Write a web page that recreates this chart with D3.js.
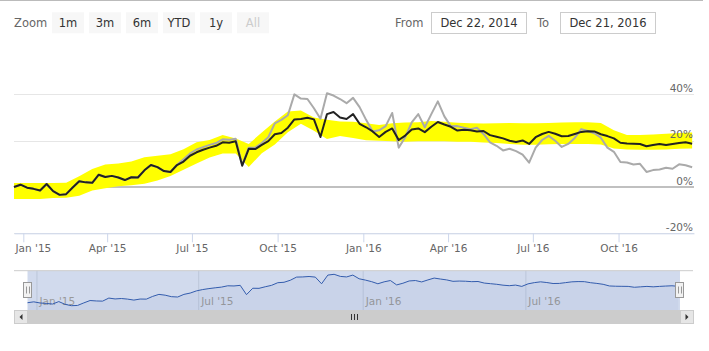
<!DOCTYPE html>
<html>
<head>
<meta charset="utf-8">
<script src="https://cdn.jsdelivr.net/npm/d3@7"></script>
<style>
body { margin: 0; background: #fff; }
text { font-family: "Lucida Grande", "Lucida Sans Unicode", "DejaVu Sans", Arial, sans-serif; }
</style>
</head>
<body>
<div id="chart"></div>
<script>
// Weekly points starting Monday Dec 22, 2014 (values in %)
const startDate = new Date(2014, 11, 22);
const endDate = new Date(2016, 11, 21);

const fundValues = [
  0, 1.0, -0.3, -0.8, -1.5, 1.3, -1.8, -3.4, -3.1, -0.2,
  2.5, 2.0, 1.8, 5.3, 4.3, 4.8, 4.1, 3.0, 4.2, 4.1,
  7.2, 9.5, 8.6, 6.9, 6.5, 9.5, 11.0, 13.5, 15.0, 16.1,
  17.0, 17.8, 19.3, 19.1, 19.8, 9.2, 16.5, 16.4, 18.2, 19.8,
  22.8, 23.3, 25.6, 29.2, 29.4, 29.9, 29.2, 21.6, 31.5, 32.4,
  30.0, 29.4, 31.5, 27.3, 25.8, 24.0, 21.6, 23.8, 25.3, 20.3,
  22.2, 24.8, 25.3, 23.7, 26.0, 28.1, 27.0, 26.0, 24.4, 24.7,
  24.5, 24.0, 24.2, 22.4, 21.7, 21.0, 20.0, 19.4, 20.1, 18.6,
  21.5, 22.9, 23.8, 23.0, 21.9, 22.0, 22.9, 23.8, 24.1, 24.0,
  22.8, 22.0, 21.0, 19.1, 18.8, 18.7, 18.6, 17.6, 18.1, 18.6,
  18.1, 18.6, 19.0, 19.3, 18.7
];

const benchmarkValues = [
  0, 1.0, -0.3, -0.8, -1.5, 1.3, -1.8, -3.4, -3.1, -0.2,
  2.5, 2.0, 1.8, 5.3, 4.3, 4.8, 4.1, 3.0, 4.2, 4.1,
  7.2, 9.5, 8.6, 6.9, 6.5, 9.6, 12.0, 14.5, 16.2, 17.2,
  18.2, 19.0, 20.6, 20.4, 20.8, 9.6, 17.0, 17.0, 19.0, 21.5,
  27.5, 29.0, 31.0, 40.0, 38.2, 38.0, 34.0, 29.5, 40.5, 39.5,
  38.0, 36.2, 38.5, 34.5, 29.0, 24.0, 24.5, 26.3, 32.0, 17.0,
  21.5, 27.9, 31.5, 25.8, 31.5, 37.0, 30.5, 26.2, 26.3, 25.6,
  25.0, 25.6, 22.9, 19.3, 17.8, 15.8, 16.5, 15.5, 14.0, 10.5,
  17.0, 20.3, 22.1, 20.0, 17.3, 18.6, 21.2, 25.0, 24.2, 23.2,
  21.3, 17.0, 15.2, 10.8, 10.6, 9.7, 10.0, 6.5, 7.3, 7.6,
  8.3, 7.9, 9.8, 9.4, 8.5
];

// Two-weekly range band
const bandLow = [
  -5.2, -5.2, -5.2, -4.8, -4.6, -3.8, -1.5, -0.5, 0.3, 0.8,
  1.4, 2.8, 4.7, 7.5, 10.1, 12.7, 14.5, 14.5, 8.6, 14.6,
  18.4, 23.7, 27.3, 24.3, 20.7, 22.0, 21.2, 20.2, 20.0, 19.8,
  19.5, 19.8, 19.8, 19.8, 19.6, 19.5, 19.2, 19.0, 18.6, 18.3,
  18.3, 18.5, 18.6, 18.6, 18.6, 18.4, 16.6, 16.2, 16.1, 16.1,
  16.2, 16.5, 16.6
];
const bandHigh = [
  1.7, 1.7, 1.7, 1.7, 1.8, 4.6, 7.8, 9.7, 10.2, 11.0,
  12.8, 13.5, 14.2, 16.3, 19.3, 20.3, 22.5, 21.0, 18.6, 23.5,
  28.3, 32.6, 33.0, 30.0, 29.0, 28.3, 28.2, 27.5, 26.8, 27.5,
  27.9, 28.0, 28.5, 28.2, 27.8, 27.5, 27.4, 27.5, 27.6, 27.5,
  27.5, 27.7, 27.9, 28.0, 28.0, 27.6, 24.5, 22.5, 22.5, 22.7,
  23.0, 23.3, 23.5
];

const zoomButtons = ["1m", "3m", "6m", "YTD", "1y", "All"];
const yTicks = [-20, 0, 20, 40];
const fromText = "Dec 22, 2014";
const toText = "Dec 21, 2016";

const W = 709, H = 351;
const plot = {left: 14, right: 694, bottom: 233.3};
const nav = {left: 27.5, right: 680, top: 270.7, bottom: 310};

const svg = d3.select("#chart").append("svg")
  .attr("width", W)
  .attr("height", H);

const weekly = fundValues.map((v, i) => ({
  date: d3.timeDay.offset(startDate, 7 * i),
  fund: v,
  bench: benchmarkValues[i]
}));
const band = bandLow.map((lo, i) => ({
  date: d3.timeDay.offset(startDate, 14 * i),
  lo: lo,
  hi: bandHigh[i]
}));

const x = d3.scaleTime().domain([startDate, endDate]).range([plot.left, plot.right]);
const y = d3.scaleLinear().domain([-20, 40]).range([plot.bottom, 94.4]);

// top border
svg.append("line")
  .attr("x1", 0).attr("x2", 703).attr("y1", 0.5).attr("y2", 0.5)
  .attr("stroke", "#bbb");

// range selector
svg.append("text").attr("x", 14).attr("y", 27)
  .attr("font-size", "11.5px").attr("fill", "#666").text("Zoom");

const btn = svg.selectAll(".btn").data(zoomButtons).enter().append("g")
  .attr("class", "btn")
  .attr("transform", (d, i) => `translate(${52 + i * 37},12.3)`);
btn.append("rect").attr("width", 32).attr("height", 21).attr("fill", "#f7f7f7");
btn.append("text").attr("x", 16).attr("y", 14.7)
  .attr("text-anchor", "middle").attr("font-size", "11.5px")
  .attr("fill", d => d === "All" ? "#cccccc" : "#333333")
  .text(d => d);

svg.append("text").attr("x", 395).attr("y", 27)
  .attr("font-size", "11.5px").attr("fill", "#666").text("From");
svg.append("text").attr("x", 537).attr("y", 27)
  .attr("font-size", "11.5px").attr("fill", "#666").text("To");

[[431, fromText], [560, toText]].forEach(([bx, t]) => {
  svg.append("rect").attr("x", bx + 0.5).attr("y", 12.5).attr("width", 95).attr("height", 21)
    .attr("fill", "#fff").attr("stroke", "#cccccc");
  svg.append("text").attr("x", bx + 48).attr("y", 27)
    .attr("text-anchor", "middle").attr("font-size", "11.5px").attr("fill", "#333")
    .text(t);
});

// y grid
svg.selectAll(".grid").data(yTicks).enter().append("line")
  .attr("class", "grid")
  .attr("x1", plot.left).attr("x2", plot.right)
  .attr("y1", d => Math.round(y(d)) + 0.5).attr("y2", d => Math.round(y(d)) + 0.5)
  .attr("stroke", "#e6e6e6");

// zero line
svg.append("line")
  .attr("x1", plot.left).attr("x2", plot.right)
  .attr("y1", y(0)).attr("y2", y(0))
  .attr("stroke", "silver").attr("stroke-width", 2);

// band
svg.append("path")
  .datum(band)
  .attr("fill", "#ffff00")
  .attr("d", d3.area().x(d => x(d.date)).y0(d => y(d.lo)).y1(d => y(d.hi)));

// series
svg.append("path")
  .datum(weekly)
  .attr("fill", "none")
  .attr("stroke", "#aaaaaa")
  .attr("stroke-width", 2)
  .attr("stroke-linejoin", "round")
  .attr("d", d3.line().x(d => x(d.date)).y(d => y(d.bench)));

svg.append("path")
  .datum(weekly)
  .attr("fill", "none")
  .attr("stroke", "#222222")
  .attr("stroke-width", 2)
  .attr("stroke-linejoin", "round")
  .attr("d", d3.line().x(d => x(d.date)).y(d => y(d.fund)));

// y labels (right side, above grid lines)
svg.selectAll(".ylabel").data(yTicks).enter().append("text")
  .attr("class", "ylabel")
  .attr("x", 693)
  .attr("y", d => y(d) - 2.5)
  .attr("text-anchor", "end")
  .attr("font-size", "10.5px")
  .attr("fill", "#666666")
  .text(d => d + "%");

// x axis
const xAxis = svg.append("g")
  .attr("transform", `translate(0,${plot.bottom})`)
  .call(d3.axisBottom(x)
    .ticks(d3.timeMonth.every(3))
    .tickFormat(d3.timeFormat("%b '%y"))
    .tickSize(9)
    .tickSizeOuter(0)
    .tickPadding(2));
xAxis.select(".domain").attr("stroke", "#ccd6eb");
xAxis.selectAll(".tick line").attr("stroke", "#ccd6eb");
xAxis.selectAll(".tick text")
  .attr("font-size", "10.5px")
  .attr("fill", "#666666")
  .each(function(d) {
    const w = this.getComputedTextLength();
    const tx = x(d);
    if (tx - w / 2 < plot.left) d3.select(this).attr("x", plot.left + 1 + w / 2 - tx);
  });

// navigator
const navX = d3.scaleTime().domain([startDate, endDate]).range([nav.left, nav.right]);
const navY = d3.scaleLinear().domain([-8.3, 36.5]).range([nav.bottom, nav.top]);

svg.append("rect")
  .attr("x", nav.left).attr("y", nav.top)
  .attr("width", nav.right - nav.left).attr("height", nav.bottom - nav.top)
  .attr("fill", "rgba(102,133,194,0.3)");

const navTicks = navX.ticks(d3.timeMonth.every(6));
svg.selectAll(".navgrid").data(navTicks).enter().append("line")
  .attr("x1", d => navX(d) + 0.5).attr("x2", d => navX(d) + 0.5)
  .attr("y1", nav.top).attr("y2", nav.bottom)
  .attr("stroke", "#bcc6d9");
svg.selectAll(".navlabel").data(navTicks).enter().append("text")
  .attr("x", d => navX(d) + 3).attr("y", 305)
  .attr("font-size", "10.5px").attr("fill", "#999999")
  .text(d3.timeFormat("%b '%y"));

svg.append("path")
  .datum(weekly)
  .attr("fill", "rgba(51,92,173,0.05)")
  .attr("d", d3.area().x(d => navX(d.date)).y0(nav.bottom).y1(d => navY(d.fund)));
svg.append("path")
  .datum(weekly)
  .attr("fill", "none")
  .attr("stroke", "#335cad")
  .attr("stroke-width", 1)
  .attr("d", d3.line().x(d => navX(d.date)).y(d => navY(d.fund)));

svg.append("line")
  .attr("x1", plot.left).attr("x2", 693)
  .attr("y1", nav.top).attr("y2", nav.top)
  .attr("stroke", "#cccccc");

// handles
[nav.left, nav.right].forEach(hx => {
  const g = svg.append("g").attr("transform", `translate(${Math.round(hx)},282.5)`);
  g.append("rect").attr("x", -4.5).attr("y", 0).attr("width", 8).attr("height", 15)
    .attr("fill", "#f2f2f2").attr("stroke", "#999999");
  g.append("line").attr("x1", -1.5).attr("x2", -1.5).attr("y1", 4).attr("y2", 11).attr("stroke", "#999999");
  g.append("line").attr("x1", 1.5).attr("x2", 1.5).attr("y1", 4).attr("y2", 11).attr("stroke", "#999999");
});

// scrollbar
const sbTop = 310, sbH = 14;
svg.append("rect").attr("x", plot.left).attr("y", sbTop).attr("width", 679).attr("height", sbH)
  .attr("fill", "#f2f2f2");
svg.append("rect").attr("x", nav.left).attr("y", sbTop).attr("width", nav.right - nav.left).attr("height", sbH)
  .attr("fill", "#cccccc");
[[plot.left, -1], [nav.right, 1]].forEach(([bx, dir]) => {
  svg.append("rect").attr("x", bx + 0.5).attr("y", sbTop + 0.5).attr("width", 13).attr("height", sbH - 1)
    .attr("fill", "#e6e6e6").attr("stroke", "#cccccc");
  const cx = bx + 7, cy = sbTop + 7;
  svg.append("path")
    .attr("d", `M${cx - dir * 1.5},${cy - 3} L${cx - dir * 1.5},${cy + 3} L${cx + dir * 1.5},${cy} Z`)
    .attr("fill", "#333333");
});
const rc = (nav.left + nav.right) / 2;
[-3, 0, 3].forEach(o => {
  svg.append("line")
    .attr("x1", Math.round(rc + o) + 0.5).attr("x2", Math.round(rc + o) + 0.5)
    .attr("y1", sbTop + 4).attr("y2", sbTop + 10)
    .attr("stroke", "#333333");
});
</script>
</body>
</html>
